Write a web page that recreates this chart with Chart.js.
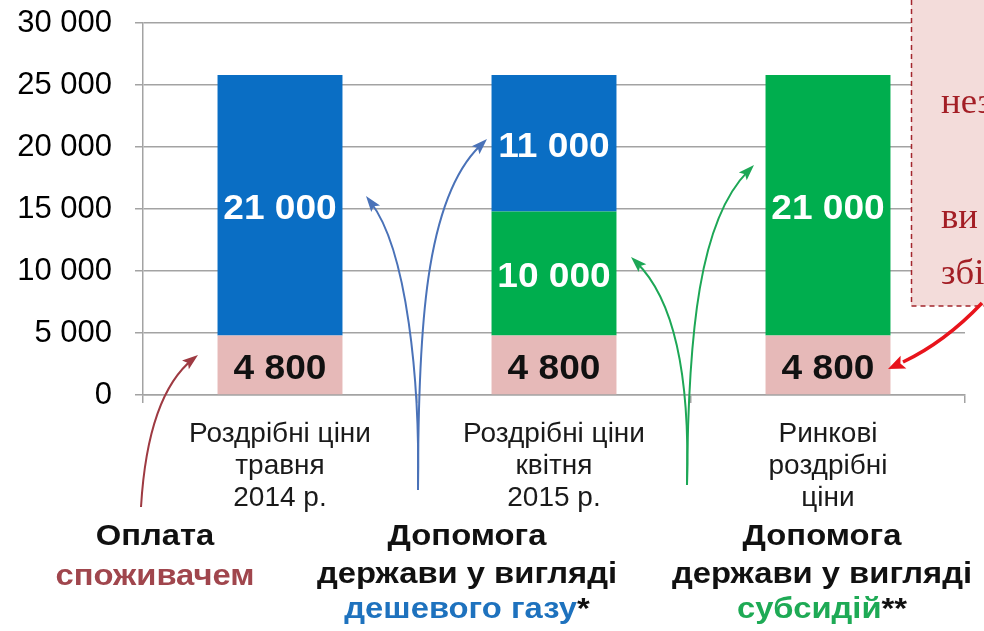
<!DOCTYPE html>
<html>
<head>
<meta charset="utf-8">
<script src="https://cdn.jsdelivr.net/npm/chart.js@4/dist/chart.umd.min.js"></script>
<style>
html,body{margin:0;padding:0;background:#fff;}
#wrap{position:relative;width:984px;height:631px;}
</style>
</head>
<body>
<div id="wrap"><canvas id="c" width="984" height="631"></canvas></div>
<script>
// ---- data ----
const categories = [
  ["Роздрібні ціни", "травня", "2014 р."],
  ["Роздрібні ціни", "квітня", "2015 р."],
  ["Ринкові", "роздрібні", "ціни"]
];
const consumerPayment = [4800, 4800, 4800];
const subsidies = [0, 10000, 21000];
const cheapGas = [21000, 11000, 0];
const yTicks = [0, 5000, 10000, 15000, 20000, 25000, 30000];
const groupTitles = [
  ["Оплата", "споживачем", ""],
  ["Допомога", "держави у вигляді", "дешевого газу", "*"],
  ["Допомога", "держави у вигляді", "субсидій", "**"]
];
const boxText = ["нез", "ви", "збі"];

const fmt = v => String(v).replace(/\B(?=(\d{3})+(?!\d))/g, " ");

const COLORS = {
  consumer: "#E6B9B8",
  gas: "#0A6EC4",
  subs: "#00AE4E",
  grid: "#A3A3A3"
};
const SANS = "'Liberation Sans', Arial, sans-serif";

function sText(ctx, text, x, y, sx) {
  ctx.save();
  ctx.translate(x, y);
  ctx.scale(sx, 1);
  ctx.fillText(text, 0, 0);
  ctx.restore();
}

function arrowHead(ctx, x, y, dx, dy, len, wid, color) {
  const a = Math.atan2(dy, dx);
  ctx.save();
  ctx.translate(x, y);
  ctx.rotate(a);
  ctx.beginPath();
  ctx.moveTo(0, 0);
  ctx.lineTo(-len, wid / 2);
  ctx.lineTo(-len * 0.8, 0);
  ctx.lineTo(-len, -wid / 2);
  ctx.closePath();
  ctx.fillStyle = color;
  ctx.fill();
  ctx.restore();
}
function curveArrow(ctx, pts, color, lw, hl, hw) {
  const [p0, c1, c2, p1] = pts;
  ctx.save();
  ctx.strokeStyle = color;
  ctx.lineWidth = lw;
  ctx.beginPath();
  ctx.moveTo(p0[0], p0[1]);
  ctx.bezierCurveTo(c1[0], c1[1], c2[0], c2[1], p1[0] - (p1[0]-c2[0])*0.12, p1[1] - (p1[1]-c2[1])*0.12);
  ctx.stroke();
  ctx.restore();
  arrowHead(ctx, p1[0], p1[1], p1[0] - c2[0], p1[1] - c2[1], hl, hw, color);
}

const overlay = {
  id: "overlay",
  afterDatasetsDraw(chart) {
    const ctx = chart.ctx;
    chart.data.datasets.forEach((ds, di) => {
      const meta = chart.getDatasetMeta(di);
      meta.data.forEach((el, i) => {
        const v = ds.data[i];
        if (!v) return;
        const cy = (el.y + el.base) / 2;
        ctx.save();
        ctx.font = "bold 35px " + SANS;
        ctx.textAlign = "center";
        ctx.textBaseline = "middle";
        ctx.fillStyle = di === 0 ? "#111" : "#fff";
        sText(ctx, fmt(v), el.x, cy + 4, 1.06);
        ctx.restore();
      });
    });
  },
  afterDraw(chart) {
    const ctx = chart.ctx;
    const xs = chart.scales.x;
    const x0 = xs.getPixelForValue(0), x1 = xs.getPixelForValue(1), x2 = xs.getPixelForValue(2);
    const b1 = (x0 + x1) / 2, b2 = (x1 + x2) / 2;

    // arrows
    curveArrow(ctx, [[141, 507], [145, 440], [160, 385], [198, 355]], "#9E3A42", 2, 16, 11);
    curveArrow(ctx, [[b1 + 1, 490], [b1 + 3, 380], [b1 - 10, 250], [366, 196]], "#4A72B8", 2, 16, 11);
    curveArrow(ctx, [[b1 + 1, 490], [b1 + 1, 330], [b1 + 8, 200], [487, 139]], "#4A72B8", 2, 16, 11);
    curveArrow(ctx, [[b2 - 4, 485], [b2 - 1, 380], [b2 - 16, 300], [631, 257]], "#1DA756", 2, 16, 11);
    curveArrow(ctx, [[b2 - 4, 485], [b2 - 3, 330], [b2 + 9, 220], [754, 165]], "#1DA756", 2, 16, 11);

    // bottom group titles
    const centers = [155, 467, 822];
    const SX = 1.13;
    groupTitles.forEach((g, i) => {
      const cx = centers[i];
      ctx.save();
      ctx.font = "bold 29px " + SANS;
      ctx.textBaseline = "middle";
      ctx.textAlign = "center";
      ctx.fillStyle = "#111";
      sText(ctx, g[0], cx, 537, SX);
      if (i === 0) {
        ctx.fillStyle = "#A0464D";
        sText(ctx, g[1], cx, 577, SX);
      } else {
        sText(ctx, g[1], cx, 575, SX);
        ctx.textAlign = "left";
        const w1 = ctx.measureText(g[2]).width * SX, w2 = ctx.measureText(g[3]).width * SX;
        const sx = cx - (w1 + w2) / 2;
        ctx.fillStyle = i === 1 ? "#1E72BE" : "#1EAA55";
        sText(ctx, g[2], sx, 610, SX);
        ctx.fillStyle = "#111";
        sText(ctx, g[3], sx + w1, 610, SX);
      }
      ctx.restore();
    });

    // note box (partially visible)
    ctx.save();
    ctx.fillStyle = "#F3DCDA";
    ctx.fillRect(911, -5, 90, 311);
    ctx.setLineDash([5, 4]);
    ctx.strokeStyle = "#A3262C";
    ctx.lineWidth = 1.5;
    ctx.strokeRect(911.5, -5, 90, 311);
    ctx.setLineDash([]);
    ctx.fillStyle = "#A31E25";
    ctx.font = "35px 'Liberation Serif', 'DejaVu Serif', serif";
    ctx.textBaseline = "alphabetic";
    ctx.textAlign = "left";
    sText(ctx, boxText[0], 941, 113, 1.05);
    sText(ctx, boxText[1], 941, 228, 1.05);
    sText(ctx, boxText[2], 941, 284, 1.05);
    ctx.restore();

    // red arrow from box
    ctx.save();
    ctx.strokeStyle = "#E8141C";
    ctx.lineWidth = 3.5;
    ctx.beginPath();
    ctx.moveTo(982, 303);
    ctx.quadraticCurveTo(945, 342, 903, 362);
    ctx.stroke();
    ctx.restore();
    arrowHead(ctx, 888, 369, -1, 0.45, 17, 14, "#E8141C");
  }
};

new Chart(document.getElementById("c"), {
  type: "bar",
  data: {
    labels: categories,
    datasets: [
      { label: "Оплата споживачем", data: consumerPayment, backgroundColor: COLORS.consumer },
      { label: "Субсидії", data: subsidies, backgroundColor: COLORS.subs },
      { label: "Дешевий газ", data: cheapGas, backgroundColor: COLORS.gas }
    ]
  },
  options: {
    responsive: false,
    animation: false,
    devicePixelRatio: 1,
    layout: { padding: { top: 23, right: 19, left: 0, bottom: 0 } },
    plugins: { legend: { display: false }, tooltip: { enabled: false } },
    datasets: { bar: { categoryPercentage: 1, barPercentage: 0.456, borderWidth: 0 } },
    scales: {
      x: {
        stacked: true,
        offset: true,
        grid: { display: true, drawOnChartArea: false, drawTicks: true, tickLength: 8, color: COLORS.grid, lineWidth: 1.5 },
        border: { color: COLORS.grid, width: 1.5 },
        ticks: {
          color: "#1a1a1a",
          padding: 15,
          maxRotation: 0,
          font: { family: SANS, size: 28, lineHeight: 1.15 }
        },
        afterFit(s) { s.height = 236; s.paddingLeft = 0; s.paddingRight = 0; s.paddingTop = 0; s.paddingBottom = 0; }
      },
      y: {
        stacked: true,
        min: 0,
        max: 30000,
        afterBuildTicks(s) { s.ticks = yTicks.map(v => ({ value: v })); },
        grid: { color: COLORS.grid, lineWidth: 1.5, tickLength: 8 },
        border: { color: COLORS.grid, width: 1.5 },
        ticks: {
          color: "#000",
          padding: 23,
          font: { family: SANS, size: 31 },
          callback: v => fmt(v)
        },
        afterFit(s) { s.width = 143; s.paddingTop = 0; s.paddingBottom = 0; }
      }
    }
  },
  plugins: [overlay]
});
</script>
</body>
</html>
